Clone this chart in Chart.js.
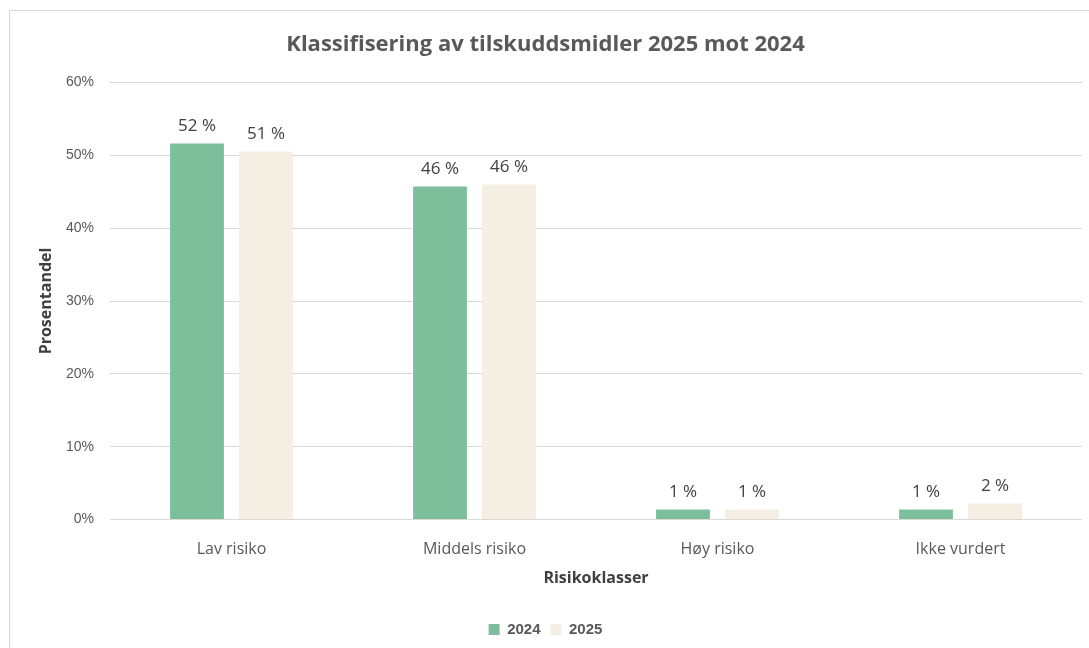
<!DOCTYPE html>
<html>
<head>
<meta charset="utf-8">
<script src="https://cdn.jsdelivr.net/npm/chart.js@4/dist/chart.umd.min.js"></script>
<style>
    html, body { margin: 0; padding: 0; background: #fff; }
    #wrap { position: relative; width: 1089px; height: 648px; overflow: hidden; }
    #frame { position: absolute; left: 9px; top: 10px; width: 1100px; height: 700px; border: 1px solid #d9d9d9; }
    #myChart { position: absolute; left: 0; top: 0; }
</style>
</head>
<body>
<div id="wrap">
    <div id="frame"></div>
    <canvas id="myChart" width="1089" height="648"></canvas>
</div>
<script>
"use strict";
const categories = ['Lav risiko', 'Middels risiko', 'Høy risiko', 'Ikke vurdert'];
const values2024 = [51.6, 45.7, 1.4, 1.4];
const values2025 = [50.5, 46.0, 1.4, 2.2];
const labels2024 = ['52 %', '46 %', '1 %', '1 %'];
const labels2025 = ['51 %', '46 %', '1 %', '2 %'];
const yTicks = [0, 10, 20, 30, 40, 50, 60];

const textColor = '#595959';

// draw the value text above each bar
const barLabels = {
    id: 'barLabels',
    afterDatasetsDraw(chart) {
        const ctx = chart.ctx;
        ctx.save();
        ctx.font = '17px "Open Sans", sans-serif';
        ctx.fillStyle = '#404040';
        ctx.textAlign = 'center';
        ctx.textBaseline = 'bottom';
        chart.data.datasets.forEach((ds, i) => {
            chart.getDatasetMeta(i).data.forEach((bar, j) => {
                ctx.fillText(ds.valueLabels[j], bar.x, bar.y - 9);
            });
        });
        ctx.restore();
    }
};

const ctx = document.getElementById('myChart').getContext('2d');
const myChart = new Chart(ctx, {
    type: 'bar',
    data: {
        labels: categories,
        datasets: [{
            label: '2024',
            data: values2024,
            valueLabels: labels2024,
            backgroundColor: '#7dbf9b',
            barPercentage: 0.78,
            categoryPercentage: 0.568
        }, {
            label: '2025',
            data: values2025,
            valueLabels: labels2025,
            backgroundColor: '#f5eee3',
            barPercentage: 0.78,
            categoryPercentage: 0.568
        }]
    },
    options: {
        responsive: false,
        animation: false,
        layout: { padding: { left: 9, right: 7, top: 10, bottom: 1 } },
        plugins: {
            title: {
                display: true,
                text: 'Klassifisering av tilskuddsmidler 2025 mot 2024',
                color: textColor,
                font: { family: '"Open Sans", sans-serif', size: 22, weight: 'bold' },
                padding: { top: 22, bottom: 24 }
            },
            legend: {
                position: 'bottom',
                labels: {
                    color: textColor,
                    font: { family: '"Liberation Sans", Arial, sans-serif', size: 15, weight: 'bold' },
                    boxWidth: 11,
                    boxHeight: 11,
                    padding: 10
                }
            },
            tooltip: { enabled: false }
        },
        scales: {
            x: {
                grid: { display: false },
                border: { display: false },
                ticks: {
                    color: textColor,
                    font: { family: '"Open Sans", sans-serif', size: 16 },
                    padding: 12
                },
                title: {
                    display: true,
                    text: 'Risikoklasser',
                    color: '#404040',
                    font: { family: '"Open Sans", sans-serif', size: 16, weight: 'bold' },
                    padding: { top: -2, bottom: 24 }
                }
            },
            y: {
                min: 0,
                max: 60,
                afterBuildTicks: (scale) => { scale.ticks = yTicks.map(v => ({ value: v })); },
                afterFit: (scale) => { scale.width = 101; },
                grid: { color: '#d9d9d9', drawTicks: false },
                border: { display: false },
                ticks: {
                    color: textColor,
                    font: { family: '"Liberation Sans", Arial, sans-serif', size: 14 },
                    padding: 16,
                    callback: (v) => v + '%'
                },
                title: {
                    display: true,
                    text: 'Prosentandel',
                    color: '#404040',
                    font: { family: '"Open Sans", sans-serif', size: 16, weight: 'bold' },
                    padding: { top: 28, bottom: 8 }
                }
            }
        }
    },
    plugins: [barLabels]
});
</script>
</body>
</html>
